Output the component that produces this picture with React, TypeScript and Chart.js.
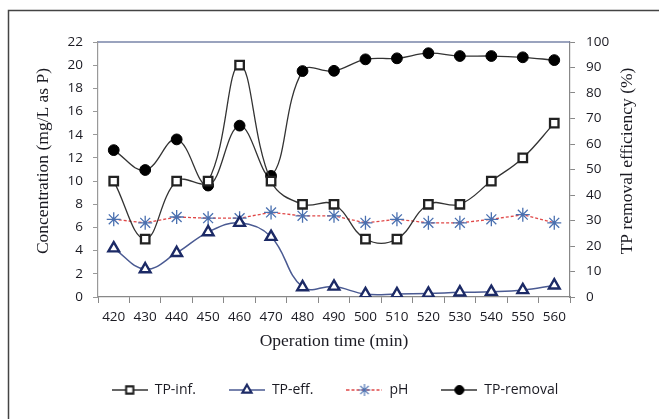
import { useEffect, useRef } from "react";
import { Chart, registerables } from "chart.js";
import { drawPoint } from "chart.js/helpers";

Chart.register(...registerables);

const categories = ["420", "430", "440", "450", "460", "470", "480", "490", "500", "510", "520", "530", "540", "550", "560"];
const tpInf = [10, 5, 10, 10, 20, 10, 8, 8, 5, 5, 8, 8, 10, 12, 15];
const tpEff = [4.2, 2.4, 3.8, 5.6, 6.4, 5.2, 0.85, 0.9, 0.25, 0.25, 0.3, 0.4, 0.45, 0.6, 1.0];
const pH = [6.7, 6.4, 6.9, 6.8, 6.8, 7.3, 7.0, 7.0, 6.4, 6.7, 6.4, 6.4, 6.7, 7.1, 6.4];
const tpRemoval = [57.6, 49.8, 61.8, 43.7, 67.2, 47.5, 88.6, 88.7, 93.2, 93.6, 95.6, 94.5, 94.5, 94.0, 92.9];
const seriesNames = ["TP-inf.", "TP-eff.", "pH", "TP-removal"];
const xAxisTitle = "Operation time (min)";
const leftAxisTitle = "Concentration (mg/L as P)";
const rightAxisTitle = "TP removal efficiency (%)";

const SANS = "'Open Sans', 'Liberation Sans', sans-serif";
const SERIF = "'Liberation Serif', 'DejaVu Serif', serif";
const TEXT = "#1a1a22";

type Style = {
  line: string; width: number; dash: number[]; point: any; radius: number;
  pBorder: string; pFill: string; pBW: number; tension: number;
};

const styles: Style[] = [
  { line: "#333", width: 1.3, dash: [], point: "rect", radius: 6, pBorder: "#222", pFill: "#fff", pBW: 2.3, tension: 0.4 },
  { line: "#4a5a92", width: 1.5, dash: [], point: "triangle", radius: 6.2, pBorder: "#1c2a66", pFill: "#fff", pBW: 2.4, tension: 0.4 },
  { line: "#e04848", width: 1.3, dash: [3, 2], point: "star", radius: 7, pBorder: "#4a70b0", pFill: "#4a70b0", pBW: 1.3, tension: 0 },
  { line: "#333", width: 1.3, dash: [], point: "circle", radius: 5.4, pBorder: "#000", pFill: "#000", pBW: 1, tension: 0.4 },
];

function makeIcon(s: Style): HTMLCanvasElement {
  const c = document.createElement("canvas");
  c.width = 36;
  c.height = 16;
  const ctx = c.getContext("2d")!;
  ctx.strokeStyle = s.line;
  ctx.lineWidth = s.width;
  ctx.setLineDash(s.dash);
  ctx.beginPath();
  ctx.moveTo(0, 8);
  ctx.lineTo(36, 8);
  ctx.stroke();
  ctx.setLineDash([]);
  ctx.strokeStyle = s.pBorder;
  ctx.fillStyle = s.pFill;
  ctx.lineWidth = s.pBW * 0.9;
  drawPoint(ctx, { pointStyle: s.point, radius: s.radius * 0.85, borderWidth: s.pBW, rotation: 0 } as any, 18, 8);
  return c;
}

const decor = {
  id: "decor",
  beforeDraw(chart: any) {
    const ctx = chart.ctx;
    ctx.save();
    ctx.strokeStyle = "#444";
    ctx.lineWidth = 1.5;
    ctx.beginPath();
    ctx.moveTo(8.5, 419);
    ctx.lineTo(8.5, 10.5);
    ctx.lineTo(659, 10.5);
    ctx.stroke();
    ctx.restore();
  },
  beforeDatasetsDraw(chart: any) {
    const { ctx, chartArea } = chart;
    ctx.save();
    ctx.strokeStyle = "#7884a8";
    ctx.lineWidth = 1.5;
    ctx.beginPath();
    ctx.moveTo(chartArea.left, chartArea.top);
    ctx.lineTo(chartArea.right, chartArea.top);
    ctx.stroke();
    ctx.restore();
  },
  afterDraw(chart: any) {
    const ctx = chart.ctx;
    const titles: [string, number][] = [[leftAxisTitle, 43.5], [rightAxisTitle, 627]];
    titles.forEach(([t, x]) => {
      ctx.save();
      ctx.fillStyle = TEXT;
      ctx.font = `17.5px ${SERIF}`;
      ctx.textAlign = "center";
      ctx.textBaseline = "middle";
      ctx.translate(x, 161);
      ctx.rotate(-Math.PI / 2);
      ctx.fillText(t, 0, 0);
      ctx.restore();
    });
  },
};

export default function App() {
  const ref = useRef<HTMLCanvasElement>(null);
  useEffect(() => {
    if (!ref.current) return;
    const values = [tpInf, tpEff, pH, tpRemoval];
    const axes = ["y", "y", "y", "y1"];
    const icons = styles.map(makeIcon);
    const chart = new Chart(ref.current, {
      type: "line",
      data: {
        labels: categories,
        datasets: values.map((v, i) => ({
          label: seriesNames[i],
          data: v,
          yAxisID: axes[i],
          borderColor: styles[i].line,
          borderWidth: styles[i].width,
          borderDash: styles[i].dash,
          tension: styles[i].tension,
          fill: false,
          pointStyle: styles[i].point,
          pointRadius: styles[i].radius,
          pointBorderColor: styles[i].pBorder,
          pointBackgroundColor: styles[i].pFill,
          pointBorderWidth: styles[i].pBW,
        })),
      },
      options: {
        responsive: false,
        animation: false,
        layout: { padding: { top: 42, left: 11, right: 0, bottom: 12 } },
        plugins: {
          tooltip: { enabled: false },
          legend: {
            position: "bottom",
            labels: {
              usePointStyle: true,
              pointStyleWidth: 36,
              padding: 33,
              color: TEXT,
              font: { family: SANS, size: 14 },
              generateLabels: () =>
                seriesNames.map((n, i) => ({
                  text: n,
                  pointStyle: icons[i] as any,
                  datasetIndex: i,
                  hidden: false,
                  fontColor: TEXT,
                  lineWidth: 0,
                })),
            },
          },
        },
        scales: {
          x: {
            type: "category",
            offset: true,
            afterFit: (s: any) => { s.height = 53; },
            grid: { offset: true, drawOnChartArea: false, tickLength: 6, color: "#888" },
            border: { color: "#888", width: 1.2 },
            ticks: { padding: 6, color: TEXT, font: { family: SANS, size: 13.5 }, maxRotation: 0, autoSkip: false },
            title: {
              display: true,
              text: xAxisTitle,
              color: TEXT,
              font: { family: SERIF, size: 17.5 },
              padding: { top: 0, bottom: -1.5 },
            },
          },
          y: {
            position: "left",
            min: 0,
            max: 22,
            afterFit: (s: any) => { s.width = 87; },
            grid: { drawOnChartArea: false, tickLength: 5, color: "#999" },
            border: { color: "#999", width: 1.2 },
            ticks: { stepSize: 2, padding: 10, color: TEXT, font: { family: SANS, size: 13.5 } },
          },
          y1: {
            position: "right",
            min: 0,
            max: 100,
            afterFit: (s: any) => { s.width = 89; },
            grid: { drawOnChartArea: false, tickLength: 5, color: "#888" },
            border: { color: "#888", width: 1.2 },
            ticks: { stepSize: 10, padding: 11, color: TEXT, font: { family: SANS, size: 13.5 } },
          },
        },
      },
      plugins: [decor],
    } as any);
    return () => chart.destroy();
  }, []);
  return (
    <div style={{ position: "fixed", left: 0, top: 0, width: 659, height: 419, background: "#fff" }}>
      <canvas ref={ref} width={659} height={419} style={{ width: 659, height: 419, display: "block" }} />
    </div>
  );
}
